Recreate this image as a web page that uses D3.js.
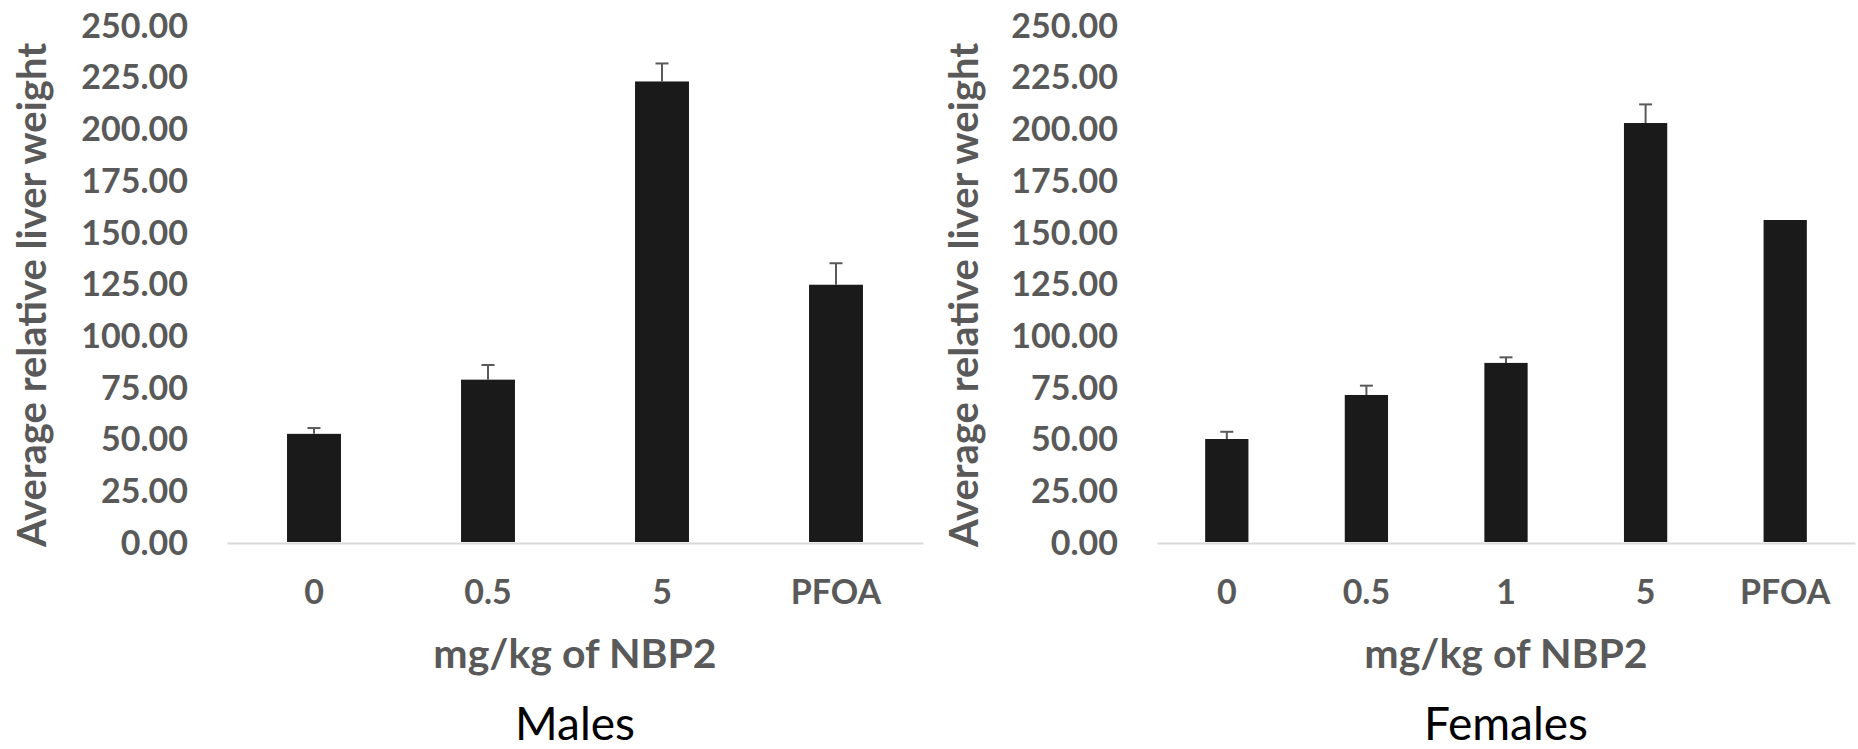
<html>
<head>
<title>Relative liver weight</title>
<script src="https://d3js.org/d3.v7.min.js"></script>
</head>
<style>
body { margin: 0; background: #fff; }
.tick text, .ylab, .xlab { font-family: Lato, "Open Sans", sans-serif; font-weight: 700; fill: #595959; }
.caption { font-family: Lato, "Open Sans", sans-serif; fill: #000; }
</style>
<body>

<svg id="chart_svg" width="1858" height="749"></svg>

<script>
// values
var maleDoses = ["0", "0.5", "5", "PFOA"];
var maleMeans = [52.3, 78.5, 222.7, 124.4];
var maleErrs  = [2.8, 7.1, 8.7, 10.4];

var femaleDoses = ["0", "0.5", "1", "5", "PFOA"];
var femaleMeans = [49.8, 71.1, 86.6, 202.6, 155.7];
var femaleErrs  = [3.5, 4.5, 2.7, 9.0, 0];

var yTicks = [0, 25, 50, 75, 100, 125, 150, 175, 200, 225, 250];

var svg = d3.select("#chart_svg");

var y = d3.scaleLinear().domain([0, 250]).range([542, 25]);

function drawPanel(doses, means, errs, opts) {
  var g = svg.append("g");

  var x = d3.scaleBand().domain(doses).range([opts.left, opts.right]).paddingInner(0.69).paddingOuter(0.345);

  // y axis labels, no line
  var yAxis = d3.axisLeft(y).tickValues(yTicks).tickFormat(d3.format(".2f")).tickSize(0).tickPadding(0);
  var ya = g.append("g").attr("transform", "translate(" + opts.labelX + ",0)").call(yAxis);
  ya.select(".domain").remove();
  ya.selectAll("text").style("font-size", "34px").attr("dy", "0.36em");

  // bars
  g.selectAll("rect.bar").data(means).enter().append("rect")
    .attr("class", "bar")
    .attr("x", function (d, i) { return x(doses[i]); })
    .attr("width", x.bandwidth())
    .attr("y", function (d) { return y(d); })
    .attr("height", function (d) { return y(0) - y(d); })
    .attr("fill", "#1a1a1a");

  // error bars (upper only)
  var eb = g.selectAll("g.err").data(means).enter().append("g").attr("class", "err")
    .filter(function (d, i) { return errs[i] > 0; });
  eb.append("line")
    .attr("x1", function (d, i) { return x(doses[i]) + x.bandwidth() / 2; })
    .attr("x2", function (d, i) { return x(doses[i]) + x.bandwidth() / 2; })
    .attr("y1", function (d) { return y(d); })
    .attr("y2", function (d, i) { return y(d + errs[i]); })
    .attr("stroke", "#595959").attr("stroke-width", 2);
  eb.append("line")
    .attr("x1", function (d, i) { return x(doses[i]) + x.bandwidth() / 2 - 6.5; })
    .attr("x2", function (d, i) { return x(doses[i]) + x.bandwidth() / 2 + 6.5; })
    .attr("y1", function (d, i) { return y(d + errs[i]); })
    .attr("y2", function (d, i) { return y(d + errs[i]); })
    .attr("stroke", "#595959").attr("stroke-width", 2);

  // x axis
  var xAxis = d3.axisBottom(x).tickSize(0).tickSizeOuter(0).tickPadding(37);
  var xa = g.append("g").attr("transform", "translate(0," + (y(0) + 1) + ")").call(xAxis);
  xa.select(".domain").attr("stroke", "#d9d9d9").attr("stroke-width", 2);
  xa.selectAll("text").style("font-size", "34px");

  // axis titles
  var mid = (opts.left + opts.right) / 2;
  g.append("text").attr("class", "xlab")
    .attr("x", mid).attr("y", 653).attr("dy", "0.36em")
    .attr("text-anchor", "middle").style("font-size", "41px")
    .text("mg/kg of NBP2");

  g.append("text").attr("class", "ylab")
    .attr("transform", "translate(" + opts.titleX + ",295) rotate(-90)")
    .attr("dy", "0.36em")
    .attr("text-anchor", "middle").style("font-size", "40px")
    .text("Average relative liver weight");

  g.append("text").attr("class", "caption")
    .attr("x", mid).attr("y", 723).attr("dy", "0.36em")
    .attr("text-anchor", "middle").style("font-size", "46px")
    .text(opts.caption);
}

drawPanel(maleDoses, maleMeans, maleErrs, { left: 227, right: 923, labelX: 188, titleX: 32, caption: "Males" });
drawPanel(femaleDoses, femaleMeans, femaleErrs, { left: 1157, right: 1855, labelX: 1118, titleX: 964, caption: "Females" });
</script>

</body>
</html>
